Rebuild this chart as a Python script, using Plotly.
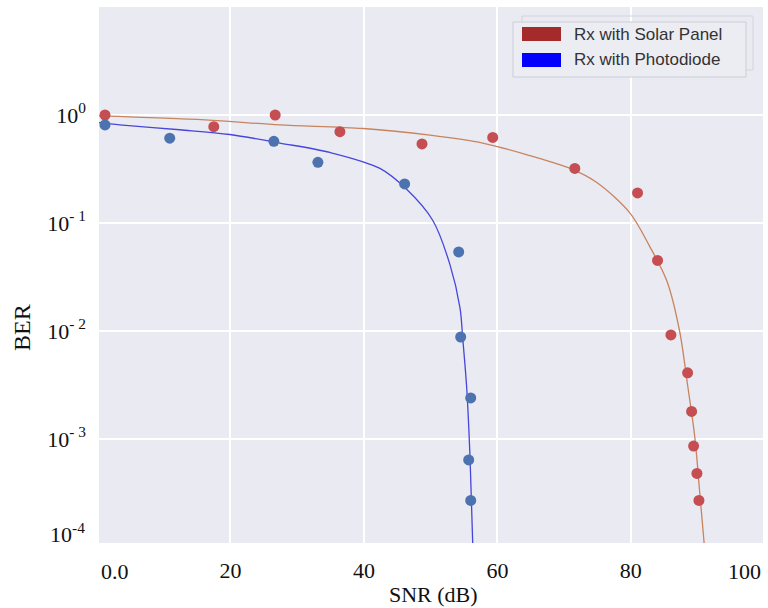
import plotly.graph_objects as go

# ---- data ----
solar_snr = [1.2, 17.5, 26.7, 36.4, 48.7, 59.3, 71.6, 81.0, 84.0, 86.0, 88.5, 89.1, 89.4, 89.9, 90.2]
solar_ber = [1.0, 0.78, 1.0, 0.70, 0.54, 0.62, 0.32, 0.19, 0.045, 0.0092, 0.0041, 0.0018, 8.6e-4, 4.8e-4, 2.7e-4]

pd_snr = [1.2, 10.9, 26.5, 33.1, 46.1, 54.2, 54.5, 56.0, 55.7, 56.0]
pd_ber = [0.81, 0.61, 0.57, 0.365, 0.23, 0.054, 0.0088, 0.0024, 6.4e-4, 2.7e-4]

solar_fit_snr = [0.3, 16.2, 27.4, 39.9, 49.9, 57.8, 64.9, 70.9, 74.9, 79.9, 82.8, 85.4, 87.3, 88.5, 89.6, 90.3, 91.0, 91.1]
solar_fit_ber = [0.98, 0.90, 0.81, 0.75, 0.65, 0.55, 0.42, 0.32, 0.237, 0.123, 0.061, 0.029, 0.010, 0.00316, 0.00102, 3.3e-4, 1.05e-4, 9e-5]

pd_fit_snr = [0.3, 3.4, 12.4, 19.9, 27.4, 34.9, 42.4, 46.4, 50.3, 52.9, 54.4, 54.8, 55.4, 55.9, 56.3, 56.4]
pd_fit_ber = [0.85, 0.81, 0.73, 0.66, 0.55, 0.45, 0.32, 0.205, 0.106, 0.041, 0.0163, 0.0086, 0.00297, 6.7e-4, 1.09e-4, 9e-5]

x_tickvals = [20, 40, 60, 80]
x_ticktext = ["20", "40", "60", "80"]
y_tickvals = [1, 0.1, 0.01, 0.001]
y_ticktext = ["10<sup>0</sup>", "10<sup>- 1</sup>", "10<sup>- 2</sup>", "10<sup>- 3</sup>"]
legend_labels = ["Rx with Solar Panel", "Rx with Photodiode"]
legend_colors = ["#A52A2A", "#0000FF"]

SERIF = "Liberation Serif, Times New Roman, serif"
SANS = "Liberation Sans, Arial, sans-serif"

fig = go.Figure()
fig.add_trace(go.Scatter(x=solar_fit_snr, y=solar_fit_ber, mode="lines",
                         line=dict(color="#C8845E", width=1.3, shape="spline", smoothing=0.9),
                         showlegend=False))
fig.add_trace(go.Scatter(x=pd_fit_snr, y=pd_fit_ber, mode="lines",
                         line=dict(color="#4646DC", width=1.3, shape="spline", smoothing=0.9),
                         showlegend=False))
fig.add_trace(go.Scatter(x=solar_snr, y=solar_ber, mode="markers",
                         marker=dict(color="#C44E52", size=11), showlegend=False, cliponaxis=False))
fig.add_trace(go.Scatter(x=pd_snr, y=pd_ber, mode="markers",
                         marker=dict(color="#4C72B0", size=11), showlegend=False, cliponaxis=False))

L, R, T, B = 99, 763, 7, 543
W, H = R - L, B - T


def px(x):
    return (x - L) / W


def py(y):
    return (B - y) / H


shapes = []
# legend shadow and box
shapes.append(dict(type="rect", xref="paper", yref="paper", x0=px(522), x1=px(753), y0=py(70), y1=py(16),
                   line=dict(color="#D4D4DC", width=1), fillcolor="rgba(0,0,0,0)", layer="above"))
shapes.append(dict(type="rect", xref="paper", yref="paper", x0=px(513), x1=px(746), y0=py(77), y1=py(22),
                   line=dict(color="#CDCDD4", width=1), fillcolor="#ECECF3", layer="above"))
annotations = []
for i, (lab, col) in enumerate(zip(legend_labels, legend_colors)):
    yc = 34 + i * 26
    shapes.append(dict(type="rect", xref="paper", yref="paper", x0=px(522), x1=px(561),
                       y0=py(yc + 7), y1=py(yc - 7), line=dict(width=0), fillcolor=col, layer="above"))
    annotations.append(dict(text=lab, xref="paper", yref="paper", x=px(572), y=py(yc),
                            xanchor="left", yanchor="middle", showarrow=False,
                            font=dict(family=SANS, size=17, color="#333333")))

# edge tick labels and axis titles
annotations.append(dict(text="0.0", xref="paper", yref="paper", x=0, y=0, xanchor="left", yanchor="top",
                        yshift=-14, showarrow=False, font=dict(family=SERIF, size=22, color="#111111")))
annotations.append(dict(text="100", xref="paper", yref="paper", x=1, y=0, xanchor="right", yanchor="top",
                        yshift=-14, showarrow=False, font=dict(family=SERIF, size=22, color="#111111")))
annotations.append(dict(text="10<sup>-4</sup>", xref="paper", yref="paper", x=0, y=py(533), xanchor="right",
                        yanchor="middle", xshift=-12, showarrow=False,
                        font=dict(family=SERIF, size=22, color="#111111")))
annotations.append(dict(text="SNR (dB)", xref="paper", yref="paper", x=px(433), y=py(594), xanchor="center",
                        yanchor="middle", showarrow=False, font=dict(family=SERIF, size=22, color="#111111")))
annotations.append(dict(text="BER", xref="paper", yref="paper", x=px(22), y=py(328), xanchor="center",
                        yanchor="middle", textangle=-90, showarrow=False,
                        font=dict(family=SERIF, size=24, color="#111111")))

fig.update_layout(
    width=768, height=608,
    margin=dict(l=L, r=768 - R, t=T, b=608 - B),
    paper_bgcolor="white", plot_bgcolor="#EAEAF2",
    shapes=shapes, annotations=annotations,
    xaxis=dict(range=[0.3, 99.8], tickvals=x_tickvals, ticktext=x_ticktext, showgrid=True,
               gridcolor="white", gridwidth=1.5, zeroline=False, ticks="", showline=False,
               ticklabelstandoff=12, tickfont=dict(family=SERIF, size=22, color="#111111")),
    yaxis=dict(type="log", range=[-3.963, 1.0], tickvals=y_tickvals, ticktext=y_ticktext, showgrid=True,
               gridcolor="white", gridwidth=1.5, zeroline=False, ticks="", showline=False,
               ticklabelstandoff=12, tickfont=dict(family=SERIF, size=22, color="#111111")),
)

fig.write_html("out.html")
